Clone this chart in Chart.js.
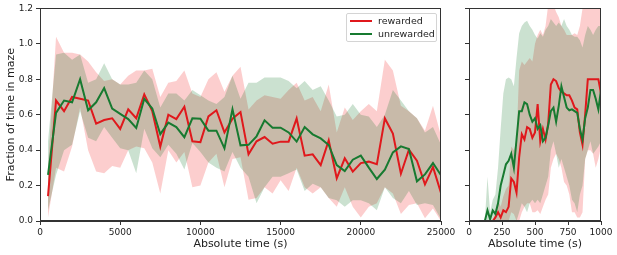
<!DOCTYPE html>
<html><head><meta charset="utf-8">
<script src="https://cdn.jsdelivr.net/npm/chart.js@4.4.0/dist/chart.umd.min.js"></script>
<style>
html,body{margin:0;padding:0;background:#fff;}
#wrap{position:relative;width:617px;height:255px;overflow:hidden;background:#fff;}
#c1{position:absolute;left:0;top:0;}
#c2{position:absolute;left:460px;top:0;}
#legend{position:absolute;left:346px;top:13px;width:89px;height:27px;border:1px solid #d4d4d4;border-radius:2px;background:rgba(255,255,255,0.85);font-family:'DejaVu Sans';font-size:9.5px;color:#222;}
.row{position:absolute;left:0;height:12px;line-height:12px;white-space:nowrap;}
.sw{position:absolute;left:3px;top:5px;width:22px;height:2px;}
.lt{position:absolute;left:31px;top:0;}
</style>
</head><body>
<div id="wrap">
<canvas id="c1" width="460" height="255"></canvas>
<canvas id="c2" width="157" height="255"></canvas>
<div id="legend"></div>
</div>
<script>
// ---------- data ----------
const seriesNames = ['rewarded', 'unrewarded'];
const xTicksLeft = [0, 5000, 10000, 15000, 20000, 25000];
const xTicksRight = [0, 250, 500, 750, 1000];
const yTicks = [0, 0.2, 0.4, 0.6, 0.8, 1.0, 1.2];

const timesLeft = [500,1000,1500,2000,2500,3000,3500,4000,4500,5000,
  5500,6000,6500,7000,7500,8000,8500,9000,9500,10000,
  10500,11000,11500,12000,12500,13000,13500,14000,14500,15000,
  15500,16000,16500,17000,17500,18000,18500,19000,19500,20000,
  20500,21000,21500,22000,22500,23000,23500,24000,24500,25000];

const rewardedLeft = [0.14,0.68,0.62,0.70,0.69,0.68,0.55,0.57,0.58,0.52,
  0.63,0.58,0.715,0.62,0.42,0.60,0.575,0.645,0.45,0.445,
  0.59,0.625,0.50,0.577,0.615,0.376,0.45,0.474,0.436,0.448,
  0.448,0.579,0.369,0.376,0.316,0.455,0.241,0.354,0.279,0.327,
  0.335,0.32,0.579,0.493,0.267,0.403,0.34,0.207,0.305,0.158];
const rewardedLeftUpper = [0.30,1.04,0.95,0.95,0.94,0.90,0.84,0.79,0.80,0.77,
  0.82,0.85,0.85,0.86,0.70,0.78,0.79,0.85,0.72,0.70,
  0.80,0.84,0.73,0.82,0.87,0.63,0.68,0.71,0.70,0.69,
  0.74,0.78,0.68,0.70,0.62,0.77,0.50,0.64,0.57,0.62,
  0.66,0.62,0.91,0.85,0.65,0.62,0.58,0.51,0.65,0.48];
const rewardedLeftLower = [0.02,0.30,0.28,0.42,0.64,0.40,0.28,0.27,0.31,0.30,
  0.40,0.42,0.41,0.33,0.155,0.40,0.33,0.39,0.19,0.20,
  0.33,0.38,0.19,0.35,0.36,0.12,0.13,0.19,0.155,0.23,
  0.17,0.30,0.19,0.155,0.19,0.13,0.08,0.19,0.08,0.02,
  0.08,0.10,0.19,0.155,0.04,0.09,0.10,0.015,0.07,0.0];

const unrewardedLeft = [0.26,0.61,0.68,0.67,0.80,0.625,0.67,0.75,0.635,0.605,
  0.575,0.525,0.69,0.635,0.49,0.555,0.53,0.473,0.58,0.577,
  0.51,0.51,0.41,0.63,0.427,0.43,0.478,0.568,0.527,0.527,
  0.50,0.448,0.53,0.489,0.466,0.429,0.316,0.282,0.346,0.369,
  0.301,0.237,0.29,0.387,0.421,0.406,0.224,0.263,0.327,0.258];
const unrewardedLeftUpper = [0.45,0.94,0.95,0.91,0.94,0.78,0.80,0.89,0.80,0.77,
  0.77,0.78,0.85,0.80,0.64,0.72,0.72,0.68,0.74,0.71,
  0.68,0.66,0.70,0.82,0.69,0.78,0.78,0.81,0.81,0.81,
  0.79,0.75,0.79,0.74,0.76,0.68,0.59,0.60,0.66,0.60,
  0.59,0.53,0.60,0.74,0.68,0.62,0.58,0.50,0.53,0.43];
const unrewardedLeftLower = [0.06,0.26,0.40,0.43,0.62,0.47,0.45,0.53,0.47,0.41,
  0.40,0.27,0.52,0.41,0.36,0.43,0.38,0.29,0.44,0.39,
  0.33,0.30,0.28,0.39,0.30,0.25,0.10,0.19,0.25,0.25,
  0.27,0.29,0.17,0.21,0.19,0.13,0.117,0.08,0.117,0.117,
  0.10,0.06,0.19,0.13,0.10,0.17,0.09,0.10,0.09,0.01];

const timesRight = [0,20,40,60,80,100,120,140,160,180,
  200,220,240,260,280,300,320,340,360,380,
  400,420,440,460,480,500,520,540,560,580,
  600,620,640,660,680,700,720,740,760,780,
  800,820,840,860,880,900,920,940,960,980,1000];

const rewardedRight = [0,0,0,0,0,0,0,0,0,0,
  0.02,0.05,0.02,0.06,0.05,0.08,0.24,0.22,0.16,0.36,
  0.49,0.46,0.53,0.52,0.47,0.50,0.66,0.45,0.52,0.46,
  0.55,0.77,0.80,0.79,0.75,0.73,0.72,0.71,0.71,0.68,
  0.64,0.63,0.50,0.43,0.60,0.80,0.80,0.80,0.80,0.80,0.72];
const rewardedRightUpper = [0,0,0,0,0,0,0,0,0,0,
  0.06,0.12,0.08,0.14,0.18,0.20,0.42,0.40,0.45,0.85,
  0.90,0.88,0.90,0.92,0.90,1.00,1.05,1.08,1.05,1.10,
  1.22,1.25,1.22,1.18,1.15,1.10,1.08,1.05,1.05,1.05,
  1.06,1.05,1.10,1.20,1.25,1.25,1.25,1.25,1.25,1.25,1.25];
const rewardedRightLower = [0,0,0,0,0,0,0,0,0,0,
  0,0,0,0,0,0,0.05,0.04,0,0,
  0.05,0.08,0.10,0.10,0.05,0.05,0.06,0.04,0.08,0.12,
  0.15,0.30,0.35,0.38,0.35,0.30,0.22,0.20,0.15,0.05,
  0.05,0.02,0.02,0.05,0.35,0.40,0.40,0.38,0.30,0.35,0.42];

const unrewardedRight = [0,0,0,0,0,0,0,0.06,0.01,0.06,
  0.04,0.10,0.20,0.26,0.32,0.34,0.38,0.30,0.46,0.62,
  0.62,0.67,0.66,0.60,0.56,0.58,0.52,0.54,0.45,0.47,
  0.54,0.62,0.64,0.56,0.65,0.76,0.70,0.64,0.625,0.63,
  0.62,0.61,0.52,0.46,0.58,0.64,0.74,0.74,0.69,0.63,0.74];
const unrewardedRightUpper = [0,0,0,0,0,0,0,0.25,0.05,0.12,
  0.15,0.30,0.52,0.72,0.80,0.81,0.80,0.76,0.92,1.06,
  1.10,1.12,1.13,1.10,1.08,1.05,1.03,1.06,1.04,1.08,
  1.10,1.14,1.12,1.10,1.12,1.10,1.14,1.10,1.08,1.05,
  1.04,1.04,1.02,0.98,1.05,1.10,1.08,1.05,1.08,1.10,1.10];
const unrewardedRightLower = [0,0,0,0,0,0,0,0,0,0,
  0,0,0,0,0,0,0,0,0,0.05,
  0.10,0.08,0.05,0.10,0.12,0.10,0.12,0.10,0.15,0.20,
  0.25,0.40,0.45,0.38,0.30,0.35,0.30,0.25,0.20,0.12,
  0.10,0.05,0.15,0.20,0.35,0.40,0.45,0.38,0.40,0.42,0.45];

// ---------- styles ----------
const FONT = 'DejaVu Sans';
const RED = '#e0181c';
const GREEN = '#177a30';
const RED_FILL = 'rgba(240,30,30,0.22)';
const GREEN_FILL = 'rgba(10,115,35,0.21)';
const AXIS = '#333333';
const TEXT = '#222222';

// legend (real text)
const leg = document.getElementById('legend');
[RED, GREEN].forEach((c, i) => {
  const row = document.createElement('div');
  row.className = 'row';
  row.style.top = (1 + i * 13) + 'px';
  row.style.width = '100%';
  row.innerHTML = '<div class="sw" style="background:' + c + '"></div><span class="lt"></span>';
  row.querySelector('.lt').textContent = seriesNames[i];
  leg.appendChild(row);
});

function pts(xs, ys) { return xs.map((x, i) => ({ x: x, y: ys[i] })); }

function makeDatasets(xs, rM, rU, rL, gM, gU, gL) {
  const band = { borderWidth: 0, borderColor: 'rgba(0,0,0,0)', pointRadius: 0, tension: 0 };
  return [
    { label: seriesNames[0], data: pts(xs, rM), borderColor: RED, borderWidth: 2, pointRadius: 0, fill: false, order: 1, tension: 0 },
    { label: seriesNames[1], data: pts(xs, gM), borderColor: GREEN, borderWidth: 2, pointRadius: 0, fill: false, order: 0, tension: 0 },
    Object.assign({ label: 'r_up', data: pts(xs, rU), fill: 3, backgroundColor: RED_FILL, order: 3 }, band),
    Object.assign({ label: 'r_lo', data: pts(xs, rL), fill: false, order: 3 }, band),
    Object.assign({ label: 'g_up', data: pts(xs, gU), fill: 5, backgroundColor: GREEN_FILL, order: 2 }, band),
    Object.assign({ label: 'g_lo', data: pts(xs, gL), fill: false, order: 2 }, band),
  ];
}

const spines = {
  id: 'spines',
  afterDraw(chart) {
    const a = chart.chartArea, ctx = chart.ctx;
    ctx.save();
    ctx.strokeStyle = AXIS;
    ctx.lineWidth = 1;
    const l = Math.round(a.left) + 0.5, r = Math.round(a.right) - 0.5;
    const t = Math.round(a.top) + 0.5, b = Math.round(a.bottom) - 0.5;
    ctx.strokeRect(l, t, r - l, b - t);
    ctx.restore();
  }
};

function makeOptions(xMax, xTicks, yLabels, yWidth, padRight, xTitle, yTitle) {
  return {
    responsive: false,
    animation: false,
    events: [],
    layout: { padding: { top: 8, right: padRight, left: 0, bottom: 0 } },
    plugins: { legend: { display: false }, tooltip: { enabled: false } },
    scales: {
      x: {
        type: 'linear', min: 0, max: xMax,
        afterBuildTicks: s => { s.ticks = xTicks.map(v => ({ value: v })); },
        ticks: { font: { family: FONT, size: 9 }, color: TEXT, padding: 2, maxRotation: 0, autoSkip: false, callback: v => String(v) },
        grid: { drawOnChartArea: false, drawTicks: true, tickLength: 4, color: AXIS },
        border: { display: true, color: AXIS },
        title: { display: true, text: xTitle, font: { family: FONT, size: 11 }, color: TEXT, padding: { top: 0, bottom: 4 } },
        afterFit: s => { s.height = 34; }
      },
      y: {
        min: 0, max: 1.2,
        afterBuildTicks: s => { s.ticks = yTicks.map(v => ({ value: v })); },
        ticks: { font: { family: FONT, size: 9 }, color: TEXT, padding: 3, autoSkip: false,
          callback: v => (yLabels ? v.toFixed(1) : '') },
        grid: { drawOnChartArea: false, drawTicks: true, tickLength: 4, color: AXIS },
        border: { display: true, color: AXIS },
        title: { display: !!yTitle, text: yTitle || '', font: { family: FONT, size: 11 }, color: TEXT, padding: { top: 5, bottom: 0 } },
        afterFit: s => { s.width = yWidth; }
      }
    }
  };
}

new Chart(document.getElementById('c1'), {
  type: 'line',
  data: { datasets: makeDatasets(timesLeft, rewardedLeft, rewardedLeftUpper, rewardedLeftLower,
    unrewardedLeft, unrewardedLeftUpper, unrewardedLeftLower) },
  options: makeOptions(25000, xTicksLeft, true, 40, 19, 'Absolute time (s)', 'Fraction of time in maze'),
  plugins: [spines]
});

new Chart(document.getElementById('c2'), {
  type: 'line',
  data: { datasets: makeDatasets(timesRight, rewardedRight, rewardedRightUpper, rewardedRightLower,
    unrewardedRight, unrewardedRightUpper, unrewardedRightLower) },
  options: makeOptions(1000, xTicksRight, false, 9, 16, 'Absolute time (s)', null),
  plugins: [spines]
});
</script>
</body></html>
